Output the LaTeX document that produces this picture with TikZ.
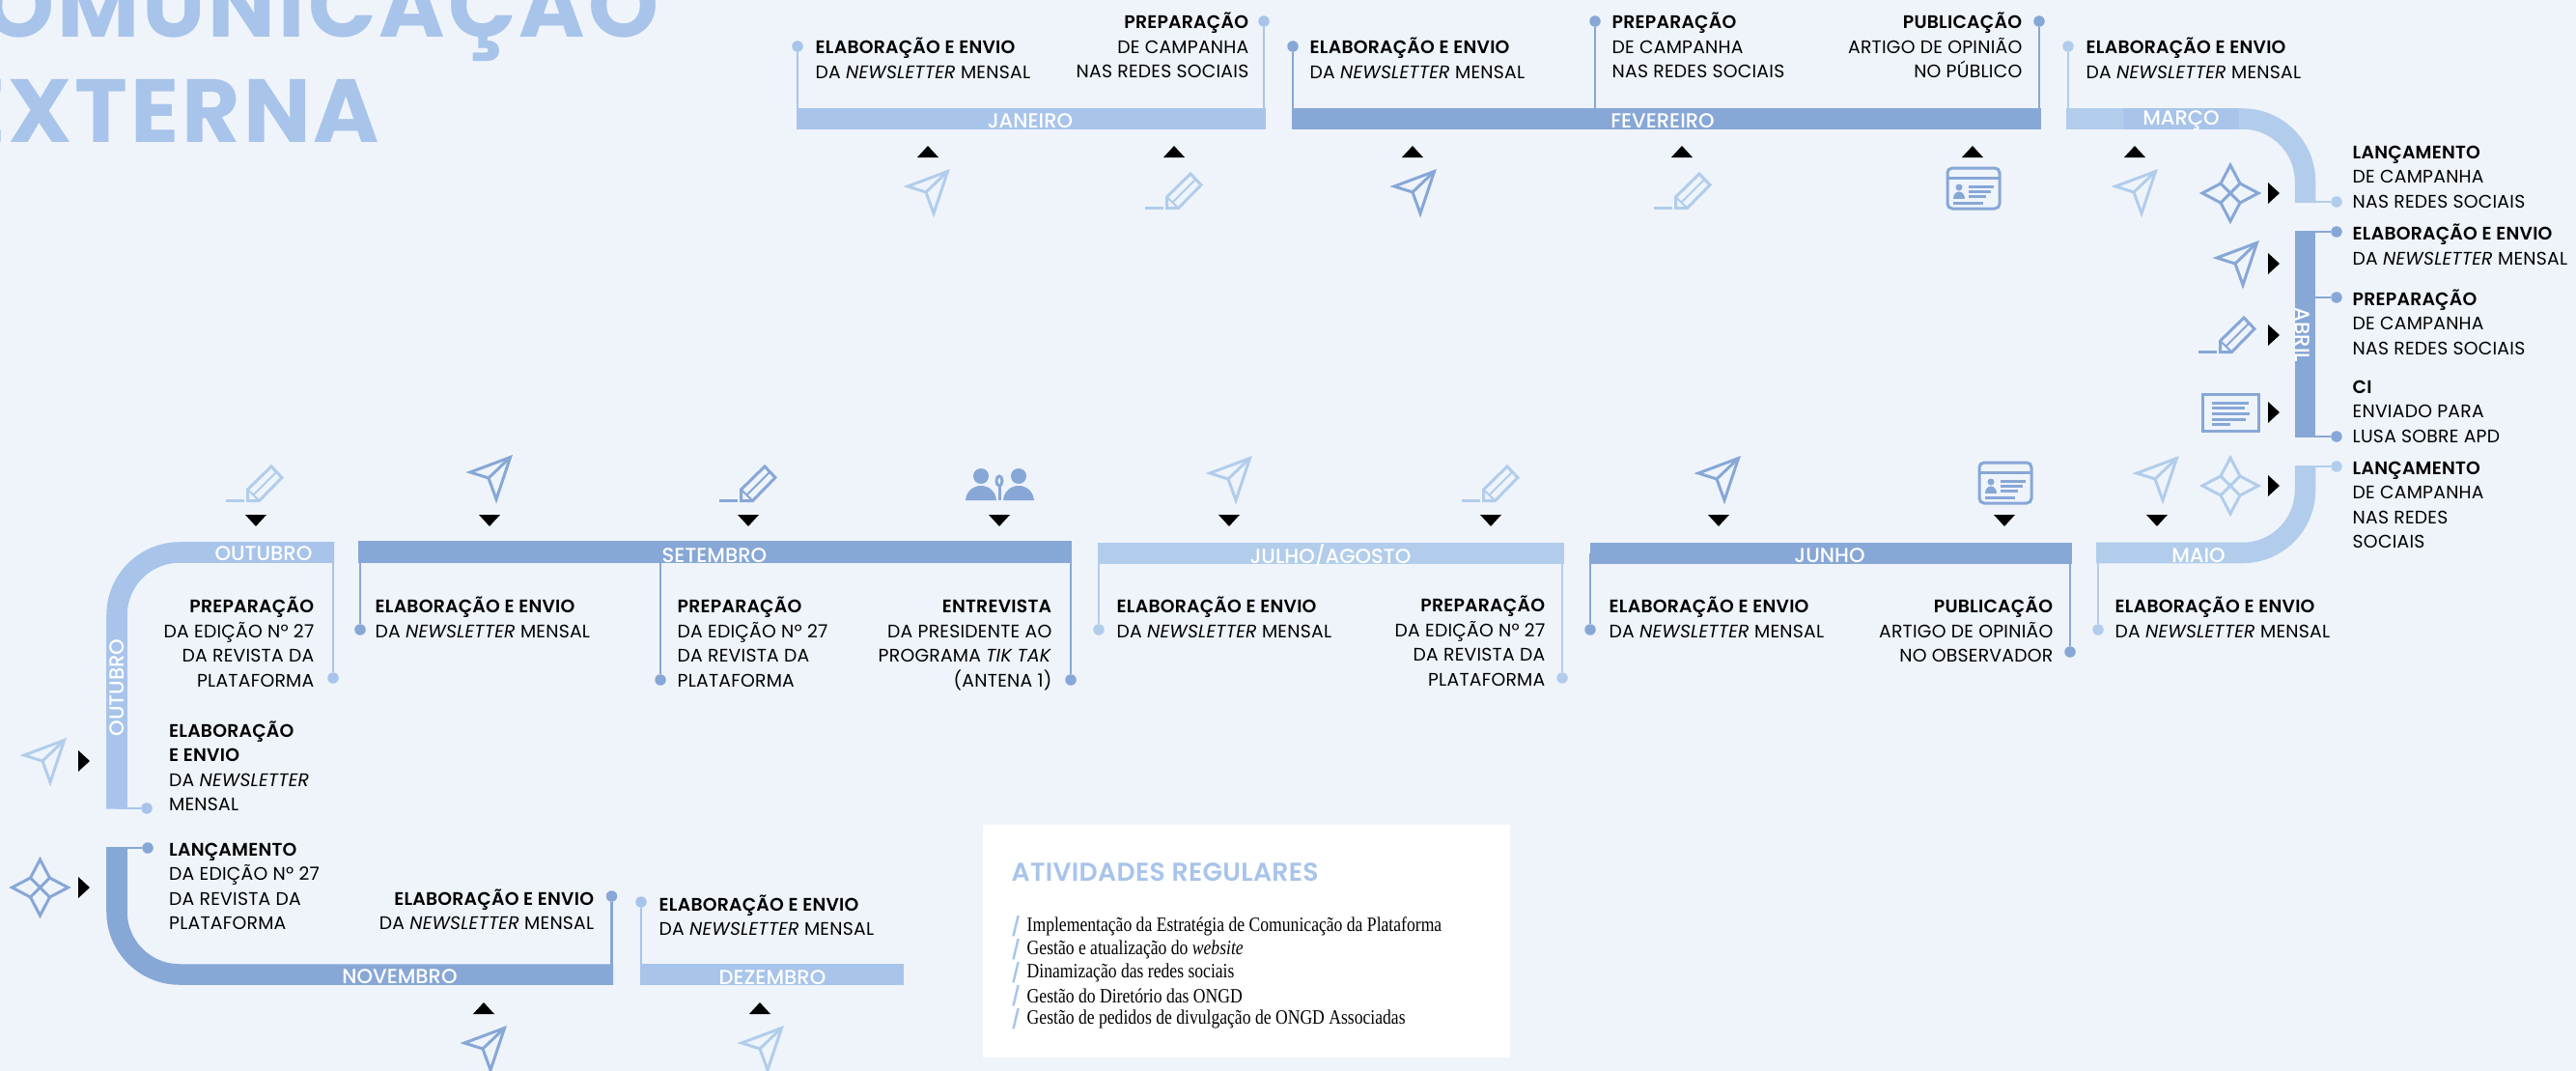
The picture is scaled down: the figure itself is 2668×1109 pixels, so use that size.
\documentclass[tikz,border=0pt]{standalone}
\usepackage{fontspec}
\setmainfont{Poppins}[BoldFont={Poppins SemiBold},LetterSpace=1.2]
\newfontfamily\titlefont{Poppins}[LetterSpace=3.2]
\newfontfamily\monthfont{Poppins Medium}
\newfontfamily\listfont[FakeStretch=0.835]{Liberation Serif}
\usetikzlibrary{calc}
\definecolor{pagebg}{HTML}{EFF4FB}
\definecolor{lightb}{HTML}{A8C4EA}
\definecolor{paleb}{HTML}{B2CDEB}
\definecolor{darkb}{HTML}{87A7D6}
\newcommand{\hd}[1]{\rule{0pt}{2.2mm}\textbf{#1}}
\newcommand{\nl}{\textit{NEWSLETTER}}
\tikzset{
    txtl/.style={anchor=north west,inner sep=0pt,yshift=2.2mm,align=left,font=\fontsize{5.35}{7.25}\selectfont},
    txtr/.style={anchor=north east,inner sep=0pt,yshift=2.2mm,align=right,font=\fontsize{5.35}{7.25}\selectfont},
    month/.style={text=white,inner sep=0pt,font=\fontsize{6}{7}\monthfont},
    titlenode/.style={anchor=base east,inner sep=0pt,text=lightb,font=\fontsize{26.4}{30}\titlefont\bfseries},
    dotl/.style={circle,fill=lightb,inner sep=0pt,minimum size=1.15mm},
    dotd/.style={circle,fill=darkb,inner sep=0pt,minimum size=1.15mm},
    dotp/.style={circle,fill=paleb,inner sep=0pt,minimum size=1.15mm},
    linel/.style={draw=lightb,line width=0.27mm},
    lined/.style={draw=darkb,line width=0.27mm},
    linep/.style={draw=paleb,line width=0.27mm},
    band/.style={line width=2.15mm,rounded corners=6.5mm},
    icon/.style={line width=0.3mm,line join=miter},
    iconplane/.pic={
        \draw[icon] (-21,-6) -- (20.5,-21.5) -- (6,22) -- (-2,0) -- cycle;
        \draw[icon] (-2,0) -- (20.5,-21.5);
    },
    iconpencil/.pic={
        \draw[icon] (-29,17.5) -- (-10,17.5);
        \draw[icon] (-6.5,17.5) -- (-6.5,6) -- (18,-18) -- (29,-6.5) -- (5.5,17.5) -- cycle;
        \draw[icon,line width=0.2mm] (-1,12) -- (23,-12);
        \draw[icon,line width=0.2mm] (-6.5,6) -- (5.5,17.5);
    },
    iconstar/.pic={
        \draw[icon] (-29,0) -- (-10,-10) -- (0,-29) -- (10,-10) -- (29,0) -- (10,10) -- (0,29) -- (-10,10) -- cycle;
        \draw[icon] (-10,-10) -- (10,10) (-10,10) -- (10,-10);
    },
    icondoc/.pic={
        \draw[icon] (-29,-19) rectangle (29,19);
        \draw[icon] (-19,-10) -- (19,-10) (-19,-5) -- (15,-5) (-19,1) -- (20,1) (-19,7) -- (16,7) (-19,12) -- (0,12);
    },
    iconcard/.pic={
        \draw[icon,rounded corners=0.5mm] (-27,-21) rectangle (27,21);
        \draw[icon] (-27,-11) -- (27,-11);
        \fill (-15,-1) circle (3.5);
        \fill (-21,11) .. controls (-21,1) and (-9,1) .. (-9,11) -- cycle;
        \draw[icon] (-5,-2) -- (21,-2) (-5,3) -- (18,3) (-5,8) -- (13,8) (-21,15) -- (10,15);
    },
    iconpeople/.pic={
        \fill (-20,-8) circle (8);
        \fill (19,-8) circle (8);
        \fill (-36,17) .. controls (-34,-3) and (-6,-3) .. (-4,17) -- cycle;
        \fill (3,17) .. controls (5,-3) and (33,-3) .. (35,17) -- cycle;
        \draw[icon] (-1,-3) ellipse (3 and 5);
        \draw[icon] (-1,2) -- (-1,17);
    }
}

\begin{document}
\begin{tikzpicture}[x=0.01cm,y=-0.01cm]
    \useasboundingbox (0,0) rectangle (2668,1109);
    \clip (0,0) rectangle (2668,1109);
    \fill[pagebg] (0,0) rectangle (2668,1109);

    % Title
    \node[titlenode] (titleA) at (683,38) {COMUNICAÇÃO};
    \node[titlenode] (titleB) at (394,147) {EXTERNA};

    % Top row bars
    \fill[lightb] (825,112) rectangle (1311,134);
    \fill[darkb] (1338,112) rectangle (2114,134);
    \draw[band,paleb] (2140,123) -- (2387.5,123) -- (2387.5,210);
    \fill[lightb] (2199,112) rectangle (2319,134);
    \fill[darkb] (2377,239) rectangle (2398,453);

    % Middle row bars
    \draw[band,paleb] (2387.5,482) -- (2387.5,572.5) -- (2171,572.5);
    \fill[darkb] (1647,562) rectangle (2146,584);
    \fill[paleb] (1137,562) rectangle (1620,584);
    \fill[darkb] (371,560) rectangle (1110,583);
    \draw[band,lightb] (346,572) -- (121,572) -- (121,837.5);

    % Bottom row bars
    \draw[band,darkb] (121,877) -- (121,1009) -- (635,1009);
    \fill[lightb] (663,998) rectangle (936,1020);

    % Month names
    \node[month] (mjan) at (1067,125) {JANEIRO};
    \node[month] (mfev) at (1722,125) {FEVEREIRO};
    \node[month] (mmar) at (2259,125) {MARÇO};
    \node[month,rotate=-90] (mabr) at (2385,347) {ABRIL};
    \node[month] (mmai) at (2277,575) {MAIO};
    \node[month] (mjun) at (1895,575) {JUNHO};
    \node[month] (mjul) at (1378,575) {JULHO/AGOSTO};
    \node[month] (mset) at (740,575) {SETEMBRO};
    \node[month] (mout) at (273,573) {OUTUBRO};
    \node[month,rotate=90] (mouv) at (121,712) {OUTUBRO};
    \node[month] (mnov) at (414,1011) {NOVEMBRO};
    \node[month] (mdez) at (800,1012) {DEZEMBRO};

    % Dots and their lines
    \coordinate (toprow) at (0,123);
    \coordinate (midrow) at (0,573);
    \coordinate (botrow) at (0,1009);
    \node[dotl] (djanA) at (826,48) {};
    \node[dotl] (djanB) at (1309,22) {};
    \node[dotd] (dfevA) at (1339,48) {};
    \node[dotd] (dfevB) at (1652,22) {};
    \node[dotd] (dfevC) at (2112,22) {};
    \node[dotp] (dmarA) at (2142,48) {};
    \draw[linel] (djanA) -- (djanA |- toprow);
    \draw[linel] (djanB) -- (djanB |- toprow);
    \draw[lined] (dfevA) -- (dfevA |- toprow);
    \draw[lined] (dfevB) -- (dfevB |- toprow);
    \draw[lined] (dfevC) -- (dfevC |- toprow);
    \draw[linep] (dmarA) -- (dmarA |- toprow);

    \coordinate (rightcol) at (2387,0);
    \node[dotp] (dmarB) at (2420,209) {};
    \node[dotd] (dabrA) at (2420,240) {};
    \node[dotd] (dabrB) at (2420,308) {};
    \node[dotd] (dabrC) at (2420,452) {};
    \node[dotp] (dmaiA) at (2420,483) {};
    \draw[linep] (dmarB) -- (dmarB -| rightcol);
    \draw[lined] (dabrA) -- (dabrA -| rightcol);
    \draw[lined] (dabrB) -- (dabrB -| rightcol);
    \draw[lined] (dabrC) -- (dabrC -| rightcol);
    \draw[linep] (dmaiA) -- (dmaiA -| rightcol);

    \node[dotp] (dmaiB) at (2173,652) {};
    \node[dotd] (djunA) at (1647,652) {};
    \node[dotd] (djunB) at (2144,675) {};
    \node[dotp] (djulA) at (1138,652) {};
    \node[dotp] (djulB) at (1618,702) {};
    \node[dotd] (dsetA) at (373,652) {};
    \node[dotd] (dsetB) at (684,704) {};
    \node[dotd] (dsetC) at (1109,704) {};
    \node[dotl] (doutA) at (345,702) {};
    \draw[linep] (dmaiB) -- (dmaiB |- midrow);
    \draw[lined] (djunA) -- (djunA |- midrow);
    \draw[lined] (djunB) -- (djunB |- midrow);
    \draw[linep] (djulA) -- (djulA |- midrow);
    \draw[linep] (djulB) -- (djulB |- midrow);
    \draw[lined] (dsetA) -- (dsetA |- midrow);
    \draw[lined] (dsetB) -- (dsetB |- midrow);
    \draw[lined] (dsetC) -- (dsetC |- midrow);
    \draw[linel] (doutA) -- (doutA |- midrow);

    \coordinate (leftcol) at (121,0);
    \node[dotl] (doutB) at (152,837) {};
    \node[dotd] (dnovA) at (153,878) {};
    \node[dotd] (dnovB) at (633.5,928) {};
    \node[dotl] (ddez) at (664,934) {};
    \draw[linel] (doutB) -- (doutB -| leftcol);
    \draw[lined] (dnovA) -- (dnovA -| leftcol);
    \draw[lined] (dnovB) -- (dnovB |- botrow);
    \draw[linel] (ddez) -- (ddez |- botrow);

    % Top row texts
    \node[txtl] (tjanA) at (844,55) {\hd{ELABORAÇÃO E ENVIO}\\DA \nl{} MENSAL};
    \node[txtr] (tjanB) at (1294,29) {\hd{PREPARAÇÃO}\\DE CAMPANHA\\NAS REDES SOCIAIS};
    \node[txtl] (tfevA) at (1356,55) {\hd{ELABORAÇÃO E ENVIO}\\DA \nl{} MENSAL};
    \node[txtl] (tfevB) at (1669,29) {\hd{PREPARAÇÃO}\\DE CAMPANHA\\NAS REDES SOCIAIS};
    \node[txtr] (tfevC) at (2095,29) {\hd{PUBLICAÇÃO}\\ARTIGO DE OPINIÃO\\NO PÚBLICO};
    \node[txtl] (tmarA) at (2160,55) {\hd{ELABORAÇÃO E ENVIO}\\DA \nl{} MENSAL};

    % Right column texts
    \node[txtl] (tmarB) at (2436,163.5) {\hd{LANÇAMENTO}\\DE CAMPANHA\\NAS REDES SOCIAIS};
    \node[txtl] (tabrA) at (2436,248) {\hd{ELABORAÇÃO E ENVIO}\\DA \nl{} MENSAL};
    \node[txtl] (tabrB) at (2436,315.5) {\hd{PREPARAÇÃO}\\DE CAMPANHA\\NAS REDES SOCIAIS};
    \node[txtl] (tabrC) at (2436,406.5) {\hd{CI}\\ENVIADO PARA\\LUSA SOBRE APD};
    \node[txtl] (tmaiA) at (2436,490.5) {\hd{LANÇAMENTO}\\DE CAMPANHA\\NAS REDES\\SOCIAIS};

    % Middle row texts
    \node[txtl] (tmaiB) at (2190,634) {\hd{ELABORAÇÃO E ENVIO}\\DA \nl{} MENSAL};
    \node[txtl] (tjunA) at (1666,634) {\hd{ELABORAÇÃO E ENVIO}\\DA \nl{} MENSAL};
    \node[txtr] (tjunB) at (2127,634) {\hd{PUBLICAÇÃO}\\ARTIGO DE OPINIÃO\\NO OBSERVADOR};
    \node[txtl] (tjulA) at (1156,634) {\hd{ELABORAÇÃO E ENVIO}\\DA \nl{} MENSAL};
    \node[txtr] (tjulB) at (1601,633) {\hd{PREPARAÇÃO}\\DA EDIÇÃO Nº 27\\DA REVISTA DA\\PLATAFORMA};
    \node[txtl] (tsetA) at (388,634) {\hd{ELABORAÇÃO E ENVIO}\\DA \nl{} MENSAL};
    \node[txtl] (tsetB) at (701,634) {\hd{PREPARAÇÃO}\\DA EDIÇÃO Nº 27\\DA REVISTA DA\\PLATAFORMA};
    \node[txtr] (tsetC) at (1090,634) {\hd{ENTREVISTA}\\DA PRESIDENTE AO\\PROGRAMA \textit{TIK TAK}\\(ANTENA 1)};
    \node[txtr] (toutA) at (326,634) {\hd{PREPARAÇÃO}\\DA EDIÇÃO Nº 27\\DA REVISTA DA\\PLATAFORMA};

    % Bottom row texts
    \node[txtl] (toutB) at (174.5,762.5) {\hd{ELABORAÇÃO}\\\textbf{E ENVIO}\\DA \nl{}\\MENSAL};
    \node[txtl] (tnovA) at (174.5,885.5) {\hd{LANÇAMENTO}\\DA EDIÇÃO Nº 27\\DA REVISTA DA\\PLATAFORMA};
    \node[txtr] (tnovB) at (616,936.5) {\hd{ELABORAÇÃO E ENVIO}\\DA \nl{} MENSAL};
    \node[txtl] (tdez) at (682,942.5) {\hd{ELABORAÇÃO E ENVIO}\\DA \nl{} MENSAL};

    % Triangles
    \foreach \x in {961,1216,1463,1742,2043,2211,501,787}
        \fill (\x-11,{\x>800 ? 163 : 1050}) -- (\x+11,{\x>800 ? 163 : 1050}) -- (\x,{\x>800 ? 151 : 1038}) -- cycle;
    \foreach \x in {2234,2076,1780,1544,1273,1035,775,507,265}
        \fill (\x-11,533) -- (\x+11,533) -- (\x,545) -- cycle;
    \foreach \x/\y in {2355/200,2355/273,2355/347,2355/427,2355/503,87/788,87/919}
        \fill (\x-6,\y-11) -- (\x-6,\y+11) -- (\x+6,\y) -- cycle;

    % Icons
    \foreach \x/\y in {961/199,2212/199,2234/496,1274/496,46/788,789/1086}
        \pic[color=paleb] at (\x,\y) {iconplane};
    \foreach \x/\y in {1465/199,2317/273,1780/496,508/495,502/1086}
        \pic[color=darkb] at (\x,\y) {iconplane};
    \foreach \x/\y in {1215/198,1742/198,1543/501,263/501}
        \pic[color=paleb] at (\x,\y) {iconpencil};
    \foreach \x/\y in {2306/347,774/501}
        \pic[color=darkb] at (\x,\y) {iconpencil};
    \pic[color=darkb] at (2310,200) {iconstar};
    \pic[color=paleb] at (2310,503) {iconstar};
    \pic[color=darkb] at (41.5,919) {iconstar};
    \pic[color=darkb] at (2310,427) {icondoc};
    \pic[color=darkb] at (2044,195) {iconcard};
    \pic[color=darkb] at (2077,500) {iconcard};
    \pic[color=darkb] at (1036,501) {iconpeople};

    % Box with regular activities
    \fill[white] (1018,854) rectangle (1563.5,1095);
    \node[anchor=west,inner sep=0pt,text=lightb,font=\fontsize{7.6}{9}\selectfont\bfseries] (thead) at (1047,903) {ATIVIDADES REGULARES};
    \foreach \y/\t [count=\i] in {959/Implementação da Estratégia de Comunicação da Plataforma,983/Gestão e atualização do \textit{website},1007/Dinamização das redes sociais,1031/Gestão do Diretório das ONGD,1055/Gestão de pedidos de divulgação de ONGD Associadas} {
        \node[anchor=west,inner sep=0pt,text=lightb,font=\fontsize{5.4}{6}\selectfont\bfseries] (sl\i) at (1047,\y) {/};
        \node[anchor=west,inner sep=0pt,font=\fontsize{6}{7}\listfont] (li\i) at (1063,\y) {\t};
    }
\end{tikzpicture}
\end{document}
